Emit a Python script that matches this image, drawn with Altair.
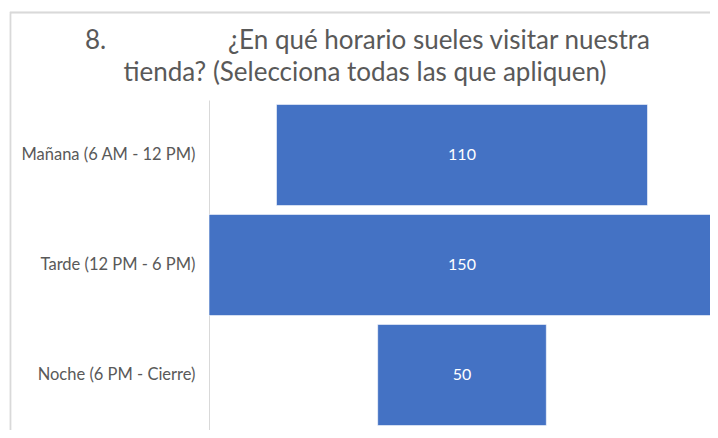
import altair as alt
import pandas as pd

categories = ["Mañana (6 AM - 12 PM)", "Tarde (12 PM - 6 PM)", "Noche (6 PM - Cierre)"]
values = [110, 150, 50]
title_number = "8."
title_line1 = "¿En qué horario sueles visitar nuestra"
title_line2 = "tienda? (Selecciona todas las que apliquen)"

df = pd.DataFrame({"cat": categories, "value": values})
base = alt.Chart(df).transform_calculate(
    lo="-datum.value/2", hi="datum.value/2", mid="0"
)

yenc = alt.Y(
    "cat:N", sort=categories, title=None,
    scale=alt.Scale(paddingInner=0.08, paddingOuter=0.04),
    axis=alt.Axis(labelFont="Lato", labelFontSize=16.5, labelColor="#595959",
                  ticks=False, domainColor="#d9d9d9", labelPadding=14, grid=False),
)
xscale = alt.Scale(domain=[-75, 75], nice=False, zero=False, range=[0, 506])

bars = base.mark_bar(color="#4472C4", stroke="#ffffff", strokeWidth=0.6).encode(
    y=yenc,
    x=alt.X("lo:Q", scale=xscale, axis=None),
    x2="hi:Q",
)
labels = base.mark_text(color="white", font="Lato", fontSize=16).encode(
    y=alt.Y("cat:N", sort=categories),
    x=alt.X("mid:Q", scale=xscale, axis=None),
    text="value:Q",
)
frame = alt.Chart(df).mark_rect(fill=None, stroke="#d9d9d9", strokeWidth=1.3).encode(
    x=alt.value(-198.5), x2=alt.value(560), y=alt.value(-87.5), y2=alt.value(400)
)

def title_text(s, x, y, align):
    return alt.Chart(pd.DataFrame({"t": [s]})).mark_text(
        font="Lato", fontSize=26, color="#595959", align=align, baseline="alphabetic"
    ).encode(text="t:N", x=alt.value(x), y=alt.value(y))

t0 = title_text(title_number, -124, -51, "left")
t1 = title_text(title_line1, 441, -51, "right")
t2 = title_text(title_line2, 156, -19, "center")

chart = alt.layer(frame, bars, labels, t0, t1, t2).properties(
    width=501, height=330,
    autosize=alt.AutoSizeParams(type="none"),
    padding={"left": 201, "top": 92, "right": 0, "bottom": 0},
).configure_view(stroke=None)

chart.save("out.html", embed_options={"renderer": "svg", "actions": False})
